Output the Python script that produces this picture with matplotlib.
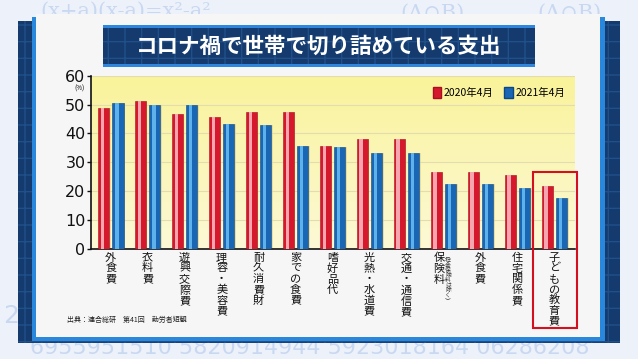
import numpy as np
import matplotlib.pyplot as plt
from matplotlib.patches import Rectangle, Patch
from matplotlib.colors import LinearSegmentedColormap

plt.rcParams['font.family'] = ['Noto Sans CJK JP', 'DejaVu Sans']

# data (%)
categories = ["外食費", "衣料費", "遊興交際費", "理容・美容費", "耐久消費財", "家での食費",
              "嗜好品代", "光熱・水道費", "交通・通信費", "保険料", "外食費", "住宅関係費",
              "子どもの教育費"]
apr_2020 = [48.8, 51.3, 46.6, 45.6, 47.3, 47.3, 35.7, 38.0, 38.1, 26.5, 26.5, 25.6, 21.7]
apr_2021 = [50.4, 49.8, 49.8, 43.4, 42.9, 35.7, 35.3, 33.3, 33.3, 22.4, 22.4, 21.0, 17.5]
series_labels = ["2020年4月", "2021年4月"]
yticks = [0, 10, 20, 30, 40, 50, 60]
title = "コロナ禍で世帯で切り詰めている支出"
source = "出典：連合総研　第41回　勤労者短観"
note = "︵社会保険料は除く︶"
highlight = 12

W, H = 638, 359
fig = plt.figure(figsize=(W / 100, H / 100), dpi=100)
fig.patch.set_facecolor('#edf2fa')


def px(x0, y0, x1, y1):
    # pixel box, origin top-left -> figure fraction rect
    return [x0 / W, 1 - y1 / H, (x1 - x0) / W, (y1 - y0) / H]


def box(x0, y0, x1, y1, **kw):
    r = px(x0, y0, x1, y1)
    fig.add_artist(Rectangle((r[0], r[1]), r[2], r[3], transform=fig.transFigure, **kw))


# faint formulas in the studio background
faint = '#c9d8f1'
fig.text(40 / W, 1 - 11 / H, "(x+a)(x-a)=x²-a²", family='DejaVu Serif', fontsize=15,
         color=faint, va='center', zorder=0.5)
fig.text(400 / W, 1 - 13 / H, "(A∩B)", family='DejaVu Serif', fontsize=15,
         color=faint, va='center', zorder=0.5)
fig.text(537 / W, 1 - 13 / H, "(A∩B)", family='DejaVu Serif', fontsize=15,
         color=faint, va='center', zorder=0.5)
fig.text(3 / W, 1 - 316 / H, "2", family='DejaVu Sans', fontsize=18,
         color=faint, va='center', zorder=0.5)
fig.text(30 / W, 1 - 348 / H, "6955951510 5820914944 5923018164 06286208",
         family='DejaVu Sans', fontsize=16, color=faint, va='center', zorder=0.5)

# board + white panel
box(18, 21, 620, 343, facecolor='#143a6e', edgecolor='#20508a', hatch='+', linewidth=0, zorder=1)
box(32, 17, 605, 341, facecolor='#2a88dc', linewidth=0, zorder=1.1)
box(36, 14, 600, 337, facecolor='#f6f6f6', linewidth=0, zorder=1.2)

# title banner
box(103, 25, 535, 67, facecolor='#143a6e', edgecolor='#20508a', hatch='+', linewidth=0, zorder=1.3)
box(103, 25, 535, 28, facecolor='#2e86de', linewidth=0, zorder=1.4)
box(103, 64, 535, 67, facecolor='#2e86de', linewidth=0, zorder=1.4)
fig.text(319 / W, 1 - 46 / H, title, color='white', fontsize=15.5, fontweight='bold',
         ha='center', va='center', zorder=2)

ax = fig.add_axes(px(91, 75.7, 575, 249))
ax.set_zorder(5)
ax.patch.set_alpha(0)

xlim = (-0.534, 12.56)
grad = np.linspace(0, 1, 100).reshape(-1, 1)
ycmap = LinearSegmentedColormap.from_list('y', ['#f9f39a', '#fdf9d6'])
ax.imshow(grad, extent=[xlim[0], xlim[1], 0, 60], aspect='auto', cmap=ycmap,
          origin='upper', zorder=0)

x = np.arange(len(categories))
off, bw = 0.196, 0.3
# soft shadow, base bars, highlight stripes
ax.bar(x - off + 0.04, apr_2020, bw, color='#d9cf8a', alpha=0.6, zorder=2)
ax.bar(x + off + 0.04, apr_2021, bw, color='#d9cf8a', alpha=0.6, zorder=2)
ax.bar(x - off, apr_2020, bw, color='#d6182c', edgecolor='#a8101f', linewidth=0.4, zorder=3)
ax.bar(x + off, apr_2021, bw, color='#1866b4', edgecolor='#0e4585', linewidth=0.4, zorder=3)
ax.bar(x - off - 0.03, apr_2020, 0.09, color='#f7a5ae', zorder=4)
ax.bar(x + off - 0.03, apr_2021, 0.09, color='#5eb2ec', zorder=4)

ax.set_xlim(*xlim)
ax.set_ylim(0, 60)
ax.set_yticks(yticks)
ax.set_yticklabels([str(t) for t in yticks], family='DejaVu Sans', fontsize=11.5)
ax.tick_params(axis='y', length=3, width=1, pad=1, colors='#111111')
ax.set_xticks([])
ax.yaxis.grid(True, color='#e3dcae', linewidth=0.8)
ax.set_axisbelow(True)
for s in ['top', 'right']:
    ax.spines[s].set_visible(False)
for s in ['left', 'bottom']:
    ax.spines[s].set_linewidth(1.2)
    ax.spines[s].set_color('#111111')

fig.text(80 / W, 1 - 89 / H, "(%)", fontsize=4.5, ha='center', va='center', zorder=20)

# vertical category labels
for i, cat in enumerate(categories):
    xi = i - 0.12 if i == 9 else i
    ax.text(xi, -1.3, "\n".join(cat), ha='center', va='top', fontsize=8,
            linespacing=1.08, color='#111111', clip_on=False)
ax.text(9 + 0.13, -1.3, "\n".join(note), ha='center', va='top', fontsize=4.2,
        linespacing=1.0, color='#333333', clip_on=False)

# red box round the highlighted category
ax.add_patch(Rectangle((highlight - 0.58, -27.4), 1.19, 54.1, fill=False,
                       edgecolor='#d41020', linewidth=1.5, clip_on=False, zorder=6))

ax.legend(handles=[Patch(facecolor='#d6182c', edgecolor='#a8101f', label=series_labels[0]),
                   Patch(facecolor='#1866b4', edgecolor='#0e4585', label=series_labels[1])],
          loc='upper right', bbox_to_anchor=(1.0, 0.99), ncol=2, frameon=False, fontsize=7.5,
          handlelength=0.8, handleheight=1.3, handletextpad=0.3, columnspacing=1.0)

fig.text(67 / W, 1 - 320 / H, source, fontsize=5, va='center', zorder=20, color='#222222')

fig.savefig('out.png', dpi=100, facecolor=fig.get_facecolor())
